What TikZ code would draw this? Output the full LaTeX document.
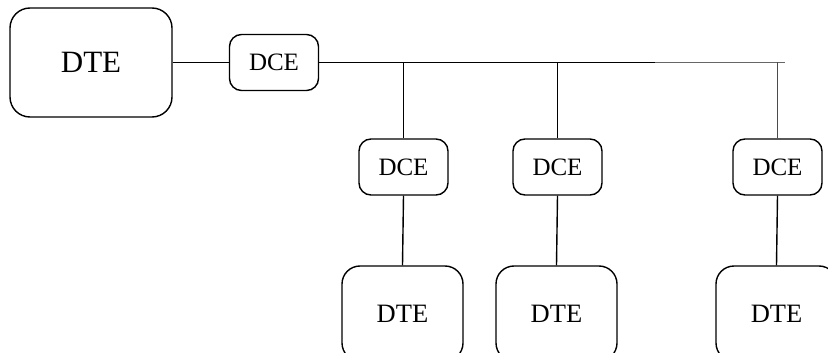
\documentclass[tikz,border=0pt]{standalone}
\usepackage{fontspec}
\setmainfont{Liberation Serif}
\begin{document}
\begin{tikzpicture}[x=1pt,y=-1pt,
  box/.style={draw=black,line width=1.4pt,rounded corners=#1,inner sep=0pt,align=center},
  bigdte/.style={box=20pt,minimum width=162pt,minimum height=109pt,font=\fontsize{31}{33}\selectfont},
  dte/.style={box=18pt,minimum width=121pt,minimum height=95pt,font=\fontsize{26.5}{28}\selectfont},
  dce/.style={box=12pt,minimum width=89pt,minimum height=56pt,font=\fontsize{25}{27}\selectfont},
  wire/.style={line width=1.4pt,black},
  drop/.style={line width=1pt,black}]
\useasboundingbox (0,0) rectangle (828,353);
\clip (0,0) rectangle (828,353);
% main station and its modem
\node[bigdte] (dteA) at (91,62.5) {DTE};
\node[dce] (dceA) at (274,62.5) {DCE};
% remote modems and stations
\node[dce] (dce1) at (403.5,167) {DCE};
\node[dce] (dce2) at (557.5,167) {DCE};
\node[dce] (dce3) at (777.5,167) {DCE};
\node[dte] (dte1) at (402.5,313.5) {DTE};
\node[dte] (dte2) at (556.5,313.5) {DTE};
\node[dte] (dte3) at (776.5,313.5) {DTE};
% shared line
\coordinate (t1) at (dce1.north |- dceA.east);
\coordinate (t2) at (dce2.north |- dceA.east);
\coordinate (t3) at (dce3.north |- dceA.east);
\coordinate (mid) at (655,62.5);
\coordinate (busend) at (785,62.5);
\draw[wire] (dteA.east) -- (dceA.west);
\draw[wire] (dceA.east) -- (mid);
\draw[line width=1.1pt,black!60] (mid) -- (busend);
\draw[drop] (t1) -- (dce1.north);
\draw[drop] (t2) -- (dce2.north);
\draw[drop,black!70] (t3) -- (dce3.north);
\draw[wire] (dce1.south) -- (dte1.north);
\draw[wire] (dce2.south) -- (dte2.north);
\draw[wire] (dce3.south) -- (dte3.north);
\end{tikzpicture}
\end{document}
